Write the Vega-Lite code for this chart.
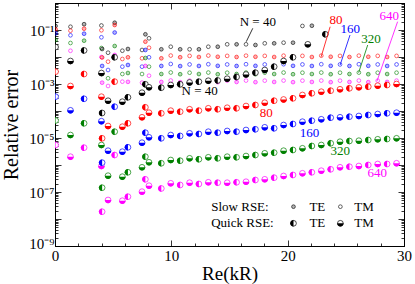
{
"$schema":"https://vega.github.io/schema/vega-lite/v6.json",
"width":349,"height":243,
"autosize":{"type":"none"},
"padding":{"left":55,"top":3,"right":11,"bottom":38},
"background":"white",
"config":{"view":{"stroke":"black","strokeWidth":1},
"axis":{"domainColor":"black","tickColor":"black","labelColor":"black","titleColor":"black","labelFont":"Liberation Serif","titleFont":"Liberation Serif","titleFontWeight":"normal","grid":false,"tickWidth":0.8}},
"datasets":{
"pts":[
{"x":0.05,"y":1.41e-1,"n":40,"m":"s","p":"TE"},{"x":0.05,"y":1.06e-1,"n":80,"m":"s","p":"TE"},{"x":0.05,"y":7.55e-2,"n":160,"m":"s","p":"TE"},{"x":0.05,"y":4.27e-2,"n":320,"m":"s","p":"TE"},{"x":0.05,"y":2.34e-2,"n":640,"m":"s","p":"TE"},
{"x":0.05,"y":2.34e-2,"n":40,"m":"q","p":"TE"},{"x":0.05,"y":2.86e-3,"n":80,"m":"q","p":"TE"},{"x":0.05,"y":3.39e-4,"n":160,"m":"q","p":"TE"},{"x":0.05,"y":4.45e-5,"n":320,"m":"q","p":"TE"},{"x":0.05,"y":5.51e-6,"n":640,"m":"q","p":"TE"},
{"x":1.33,"y":1.32e-1,"n":40,"m":"s","p":"TM"},{"x":1.33,"y":9.42e-2,"n":80,"m":"s","p":"TM"},{"x":1.33,"y":6.37e-2,"n":160,"m":"s","p":"TM"},{"x":1.33,"y":3.30e-2,"n":320,"m":"s","p":"TM"},{"x":1.33,"y":1.70e-2,"n":640,"m":"s","p":"TM"},
{"x":1.33,"y":7.11e-3,"n":40,"m":"q","p":"TM"},{"x":1.33,"y":8.43e-4,"n":80,"m":"q","p":"TM"},{"x":1.33,"y":1.06e-4,"n":160,"m":"q","p":"TM"},{"x":1.33,"y":1.29e-5,"n":320,"m":"q","p":"TM"},{"x":1.33,"y":2.03e-6,"n":640,"m":"q","p":"TM"},
{"x":2.5,"y":1.64e-1,"n":40,"m":"s","p":"TE"},{"x":2.5,"y":1.12e-1,"n":80,"m":"s","p":"TE"},{"x":2.5,"y":7.29e-2,"n":160,"m":"s","p":"TE"},{"x":2.5,"y":4.02e-2,"n":320,"m":"s","p":"TE"},{"x":2.5,"y":1.71e-2,"n":640,"m":"s","p":"TE"},
{"x":2.5,"y":1.75e-2,"n":40,"m":"q","p":"TE"},{"x":2.5,"y":2.34e-3,"n":80,"m":"q","p":"TE"},{"x":2.5,"y":2.83e-4,"n":160,"m":"q","p":"TE"},{"x":2.5,"y":3.50e-5,"n":320,"m":"q","p":"TE"},{"x":2.5,"y":4.38e-6,"n":640,"m":"q","p":"TE"},
{"x":3.99,"y":1.47e-1,"n":40,"m":"s","p":"TM"},{"x":3.99,"y":9.75e-2,"n":80,"m":"s","p":"TM"},{"x":3.99,"y":5.37e-2,"n":160,"m":"s","p":"TM"},{"x":3.99,"y":2.15e-2,"n":320,"m":"s","p":"TM"},{"x":3.99,"y":1.0e-2,"n":640,"m":"s","p":"TM"},
{"x":3.99,"y":2.55e-3,"n":40,"m":"q","p":"TM"},{"x":3.99,"y":3.39e-4,"n":80,"m":"q","p":"TM"},{"x":3.99,"y":4.19e-5,"n":160,"m":"q","p":"TM"},{"x":3.99,"y":5.51e-6,"n":320,"m":"q","p":"TM"},{"x":3.99,"y":9.18e-7,"n":640,"m":"q","p":"TM"},
{"x":4.05,"y":1.98e-2,"n":40,"m":"s","p":"TE"},{"x":4.05,"y":9.58e-3,"n":80,"m":"s","p":"TE"},{"x":4.05,"y":4.65e-3,"n":160,"m":"s","p":"TE"},{"x":4.05,"y":2.34e-3,"n":320,"m":"s","p":"TE"},{"x":4.05,"y":1.12e-3,"n":640,"m":"s","p":"TE"},
{"x":4.05,"y":8.43e-5,"n":40,"m":"q","p":"TE"},{"x":4.05,"y":9.75e-6,"n":80,"m":"q","p":"TE"},{"x":4.05,"y":1.22e-6,"n":160,"m":"q","p":"TE"},{"x":4.05,"y":1.44e-7,"n":320,"m":"q","p":"TE"},{"x":4.05,"y":1.86e-8,"n":640,"m":"q","p":"TE"},
{"x":4.56,"y":1.44e-2,"n":40,"m":"s","p":"TM"},{"x":4.56,"y":6.70e-3,"n":80,"m":"s","p":"TM"},{"x":4.56,"y":3.30e-3,"n":160,"m":"s","p":"TM"},{"x":4.56,"y":1.63e-3,"n":320,"m":"s","p":"TM"},{"x":4.56,"y":8.43e-4,"n":640,"m":"s","p":"TM"},
{"x":4.56,"y":2.40e-4,"n":40,"m":"q","p":"TM"},{"x":4.56,"y":2.78e-5,"n":80,"m":"q","p":"TM"},{"x":4.56,"y":3.39e-6,"n":160,"m":"q","p":"TM"},{"x":4.56,"y":4.02e-7,"n":320,"m":"q","p":"TM"},{"x":4.56,"y":5.06e-8,"n":640,"m":"q","p":"TM"},
{"x":5.13,"y":1.86e-1,"n":40,"m":"s","p":"TE"},{"x":5.13,"y":1.53e-1,"n":80,"m":"s","p":"TE"},{"x":5.13,"y":8.07e-2,"n":160,"m":"s","p":"TE"},{"x":5.13,"y":2.55e-2,"n":320,"m":"s","p":"TE"},{"x":5.13,"y":1.19e-2,"n":640,"m":"s","p":"TE"},
{"x":5.13,"y":9.75e-3,"n":40,"m":"q","p":"TE"},{"x":5.13,"y":1.22e-3,"n":80,"m":"q","p":"TE"},{"x":5.13,"y":1.44e-4,"n":160,"m":"q","p":"TE"},{"x":5.13,"y":1.71e-5,"n":320,"m":"q","p":"TE"},{"x":5.13,"y":2.34e-6,"n":640,"m":"q","p":"TE"},
{"x":5.79,"y":1.71e-2,"n":40,"m":"s","p":"TM"},{"x":5.79,"y":8.43e-3,"n":80,"m":"s","p":"TM"},{"x":5.79,"y":4.38e-3,"n":160,"m":"s","p":"TM"},{"x":5.79,"y":2.34e-3,"n":320,"m":"s","p":"TM"},{"x":5.79,"y":1.22e-3,"n":640,"m":"s","p":"TM"},
{"x":5.79,"y":2.21e-4,"n":40,"m":"q","p":"TM"},{"x":5.79,"y":2.62e-5,"n":80,"m":"q","p":"TM"},{"x":5.79,"y":3.11e-6,"n":160,"m":"q","p":"TM"},{"x":5.79,"y":3.69e-7,"n":320,"m":"q","p":"TM"},{"x":5.79,"y":4.76e-8,"n":640,"m":"q","p":"TM"},
{"x":6.27,"y":1.98e-2,"n":40,"m":"s","p":"TE"},{"x":6.27,"y":9.75e-3,"n":80,"m":"s","p":"TE"},{"x":6.27,"y":5.06e-3,"n":160,"m":"s","p":"TE"},{"x":6.27,"y":2.55e-3,"n":320,"m":"s","p":"TE"},{"x":6.27,"y":1.2e-3,"n":640,"m":"s","p":"TE"},
{"x":6.27,"y":3.21e-4,"n":40,"m":"q","p":"TE"},{"x":6.27,"y":3.50e-5,"n":80,"m":"q","p":"TE"},{"x":6.27,"y":4.53e-6,"n":160,"m":"q","p":"TE"},{"x":6.27,"y":5.37e-7,"n":320,"m":"q","p":"TE"},{"x":6.27,"y":6.70e-8,"n":640,"m":"q","p":"TE"},
{"x":7.48,"y":1.82e-2,"n":40,"m":"s","p":"TM"},{"x":7.48,"y":8.95e-3,"n":80,"m":"s","p":"TM"},{"x":7.48,"y":4.38e-3,"n":160,"m":"s","p":"TM"},{"x":7.48,"y":2.34e-3,"n":320,"m":"s","p":"TM"},{"x":7.48,"y":1.12e-3,"n":640,"m":"s","p":"TM"},
{"x":7.48,"y":4.76e-4,"n":40,"m":"q","p":"TM"},{"x":7.48,"y":5.85e-5,"n":80,"m":"q","p":"TM"},{"x":7.48,"y":6.70e-6,"n":160,"m":"q","p":"TM"},{"x":7.48,"y":8.22e-7,"n":320,"m":"q","p":"TM"},{"x":7.48,"y":1.03e-7,"n":640,"m":"q","p":"TM"},
{"x":7.77,"y":6.93e-2,"n":40,"m":"s","p":"TE"},{"x":7.77,"y":3.69e-2,"n":80,"m":"s","p":"TE"},{"x":7.77,"y":1.82e-2,"n":160,"m":"s","p":"TE"},{"x":7.77,"y":9.18e-3,"n":320,"m":"s","p":"TE"},{"x":7.77,"y":4.65e-3,"n":640,"m":"s","p":"TE"},
{"x":7.77,"y":9.75e-4,"n":40,"m":"q","p":"TE"},{"x":7.77,"y":1.37e-4,"n":80,"m":"q","p":"TE"},{"x":7.77,"y":1.57e-5,"n":160,"m":"q","p":"TE"},{"x":7.77,"y":2.03e-6,"n":320,"m":"q","p":"TE"},{"x":7.77,"y":2.95e-7,"n":640,"m":"q","p":"TE"},
{"x":8.08,"y":4.93e-2,"n":40,"m":"s","p":"TM"},{"x":8.08,"y":2.21e-2,"n":80,"m":"s","p":"TM"},{"x":8.08,"y":9.75e-3,"n":160,"m":"s","p":"TM"},{"x":8.08,"y":4.38e-3,"n":320,"m":"s","p":"TM"},{"x":8.08,"y":2.03e-3,"n":640,"m":"s","p":"TM"},
{"x":8.08,"y":7.55e-4,"n":40,"m":"q","p":"TM"},{"x":8.08,"y":8.65e-5,"n":80,"m":"q","p":"TM"},{"x":8.08,"y":1.06e-5,"n":160,"m":"q","p":"TM"},{"x":8.08,"y":1.26e-6,"n":320,"m":"q","p":"TM"},{"x":8.08,"y":1.71e-7,"n":640,"m":"q","p":"TM"},

{"x":9.14,"y":1.93e-2,"n":40,"m":"s","p":"TE"},{"x":9.95,"y":2.40e-2,"n":40,"m":"s","p":"TM"},{"x":10.76,"y":1.93e-2,"n":40,"m":"s","p":"TE"},{"x":11.57,"y":1.93e-2,"n":40,"m":"s","p":"TM"},{"x":12.37,"y":1.93e-2,"n":40,"m":"s","p":"TE"},{"x":13.18,"y":2.40e-2,"n":40,"m":"s","p":"TM"},{"x":13.99,"y":2.40e-2,"n":40,"m":"s","p":"TE"},{"x":14.80,"y":2.95e-2,"n":40,"m":"s","p":"TM"},{"x":15.61,"y":2.95e-2,"n":40,"m":"s","p":"TE"},{"x":16.42,"y":2.95e-2,"n":40,"m":"s","p":"TM"},{"x":17.23,"y":2.78e-2,"n":40,"m":"s","p":"TE"},{"x":18.03,"y":3.21e-2,"n":40,"m":"s","p":"TM"},{"x":18.84,"y":3.21e-2,"n":40,"m":"s","p":"TE"},{"x":19.65,"y":3.39e-2,"n":40,"m":"s","p":"TM"},{"x":20.46,"y":3.39e-2,"n":40,"m":"s","p":"TE"},{"x":21.27,"y":1.41e-1,"n":40,"m":"s","p":"TM"},{"x":22.08,"y":1.44e-1,"n":40,"m":"s","p":"TE"},

{"x":9.14,"y":8.95e-3,"n":80,"m":"s","p":"TE"},{"x":9.95,"y":1.13e-2,"n":80,"m":"s","p":"TM"},{"x":10.76,"y":9.8e-3,"n":80,"m":"s","p":"TE"},{"x":11.57,"y":1.1e-2,"n":80,"m":"s","p":"TM"},{"x":12.37,"y":1.0e-2,"n":80,"m":"s","p":"TE"},{"x":13.18,"y":1.13e-2,"n":80,"m":"s","p":"TM"},{"x":13.99,"y":1.02e-2,"n":80,"m":"s","p":"TE"},{"x":14.80,"y":1.1e-2,"n":80,"m":"s","p":"TM"},{"x":15.61,"y":1.0e-2,"n":80,"m":"s","p":"TE"},{"x":16.42,"y":1.12e-2,"n":80,"m":"s","p":"TM"},{"x":17.23,"y":1.02e-2,"n":80,"m":"s","p":"TE"},{"x":18.03,"y":1.1e-2,"n":80,"m":"s","p":"TM"},{"x":18.84,"y":1.0e-2,"n":80,"m":"s","p":"TE"},{"x":19.65,"y":1.12e-2,"n":80,"m":"s","p":"TM"},{"x":20.46,"y":1.02e-2,"n":80,"m":"s","p":"TE"},{"x":21.27,"y":1.1e-2,"n":80,"m":"s","p":"TM"},{"x":22.08,"y":1.0e-2,"n":80,"m":"s","p":"TE"},{"x":22.89,"y":1.12e-2,"n":80,"m":"s","p":"TM"},{"x":23.70,"y":1.02e-2,"n":80,"m":"s","p":"TE"},{"x":24.50,"y":1.1e-2,"n":80,"m":"s","p":"TM"},{"x":25.31,"y":1.0e-2,"n":80,"m":"s","p":"TE"},{"x":26.12,"y":1.12e-2,"n":80,"m":"s","p":"TM"},{"x":26.93,"y":1.02e-2,"n":80,"m":"s","p":"TE"},{"x":27.74,"y":1.1e-2,"n":80,"m":"s","p":"TM"},{"x":28.55,"y":1.0e-2,"n":80,"m":"s","p":"TE"},{"x":29.36,"y":1.1e-2,"n":80,"m":"s","p":"TM"},

{"x":9.14,"y":4.65e-3,"n":160,"m":"s","p":"TE"},{"x":9.95,"y":5.51e-3,"n":160,"m":"s","p":"TM"},{"x":10.76,"y":4.6e-3,"n":160,"m":"s","p":"TE"},{"x":11.57,"y":5.3e-3,"n":160,"m":"s","p":"TM"},{"x":12.37,"y":4.65e-3,"n":160,"m":"s","p":"TE"},{"x":13.18,"y":5.4e-3,"n":160,"m":"s","p":"TM"},{"x":13.99,"y":4.7e-3,"n":160,"m":"s","p":"TE"},{"x":14.80,"y":5.3e-3,"n":160,"m":"s","p":"TM"},{"x":15.61,"y":4.65e-3,"n":160,"m":"s","p":"TE"},{"x":16.42,"y":5.4e-3,"n":160,"m":"s","p":"TM"},{"x":17.23,"y":4.7e-3,"n":160,"m":"s","p":"TE"},{"x":18.03,"y":5.3e-3,"n":160,"m":"s","p":"TM"},{"x":18.84,"y":4.65e-3,"n":160,"m":"s","p":"TE"},{"x":19.65,"y":5.4e-3,"n":160,"m":"s","p":"TM"},{"x":20.46,"y":4.7e-3,"n":160,"m":"s","p":"TE"},{"x":21.27,"y":5.3e-3,"n":160,"m":"s","p":"TM"},{"x":22.08,"y":4.65e-3,"n":160,"m":"s","p":"TE"},{"x":22.89,"y":5.4e-3,"n":160,"m":"s","p":"TM"},{"x":23.70,"y":4.7e-3,"n":160,"m":"s","p":"TE"},{"x":24.50,"y":5.3e-3,"n":160,"m":"s","p":"TM"},{"x":25.31,"y":4.65e-3,"n":160,"m":"s","p":"TE"},{"x":26.12,"y":5.4e-3,"n":160,"m":"s","p":"TM"},{"x":26.93,"y":4.7e-3,"n":160,"m":"s","p":"TE"},{"x":27.74,"y":5.3e-3,"n":160,"m":"s","p":"TM"},{"x":28.55,"y":4.65e-3,"n":160,"m":"s","p":"TE"},{"x":29.36,"y":5.3e-3,"n":160,"m":"s","p":"TM"},

{"x":9.14,"y":2.34e-3,"n":320,"m":"s","p":"TE"},{"x":9.95,"y":2.67e-3,"n":320,"m":"s","p":"TM"},{"x":10.76,"y":2.3e-3,"n":320,"m":"s","p":"TE"},{"x":11.57,"y":2.62e-3,"n":320,"m":"s","p":"TM"},{"x":12.37,"y":2.34e-3,"n":320,"m":"s","p":"TE"},{"x":13.18,"y":2.65e-3,"n":320,"m":"s","p":"TM"},{"x":13.99,"y":2.3e-3,"n":320,"m":"s","p":"TE"},{"x":14.80,"y":2.62e-3,"n":320,"m":"s","p":"TM"},{"x":15.61,"y":2.34e-3,"n":320,"m":"s","p":"TE"},{"x":16.42,"y":2.65e-3,"n":320,"m":"s","p":"TM"},{"x":17.23,"y":2.3e-3,"n":320,"m":"s","p":"TE"},{"x":18.03,"y":2.62e-3,"n":320,"m":"s","p":"TM"},{"x":18.84,"y":2.34e-3,"n":320,"m":"s","p":"TE"},{"x":19.65,"y":2.65e-3,"n":320,"m":"s","p":"TM"},{"x":20.46,"y":2.3e-3,"n":320,"m":"s","p":"TE"},{"x":21.27,"y":2.62e-3,"n":320,"m":"s","p":"TM"},{"x":22.08,"y":2.34e-3,"n":320,"m":"s","p":"TE"},{"x":22.89,"y":2.65e-3,"n":320,"m":"s","p":"TM"},{"x":23.70,"y":2.3e-3,"n":320,"m":"s","p":"TE"},{"x":24.50,"y":2.62e-3,"n":320,"m":"s","p":"TM"},{"x":25.31,"y":2.34e-3,"n":320,"m":"s","p":"TE"},{"x":26.12,"y":2.65e-3,"n":320,"m":"s","p":"TM"},{"x":26.93,"y":2.3e-3,"n":320,"m":"s","p":"TE"},{"x":27.74,"y":2.62e-3,"n":320,"m":"s","p":"TM"},{"x":28.55,"y":2.34e-3,"n":320,"m":"s","p":"TE"},{"x":29.36,"y":2.62e-3,"n":320,"m":"s","p":"TM"},

{"x":9.14,"y":1.19e-3,"n":640,"m":"s","p":"TE"},{"x":9.95,"y":1.35e-3,"n":640,"m":"s","p":"TM"},{"x":10.76,"y":1.17e-3,"n":640,"m":"s","p":"TE"},{"x":11.57,"y":1.33e-3,"n":640,"m":"s","p":"TM"},{"x":12.37,"y":1.19e-3,"n":640,"m":"s","p":"TE"},{"x":13.18,"y":1.34e-3,"n":640,"m":"s","p":"TM"},{"x":13.99,"y":1.17e-3,"n":640,"m":"s","p":"TE"},{"x":14.80,"y":1.33e-3,"n":640,"m":"s","p":"TM"},{"x":15.61,"y":1.19e-3,"n":640,"m":"s","p":"TE"},{"x":16.42,"y":1.34e-3,"n":640,"m":"s","p":"TM"},{"x":17.23,"y":1.17e-3,"n":640,"m":"s","p":"TE"},{"x":18.03,"y":1.33e-3,"n":640,"m":"s","p":"TM"},{"x":18.84,"y":1.19e-3,"n":640,"m":"s","p":"TE"},{"x":19.65,"y":1.34e-3,"n":640,"m":"s","p":"TM"},{"x":20.46,"y":1.17e-3,"n":640,"m":"s","p":"TE"},{"x":21.27,"y":1.33e-3,"n":640,"m":"s","p":"TM"},{"x":22.08,"y":1.19e-3,"n":640,"m":"s","p":"TE"},{"x":22.89,"y":1.34e-3,"n":640,"m":"s","p":"TM"},{"x":23.70,"y":1.17e-3,"n":640,"m":"s","p":"TE"},{"x":24.50,"y":1.33e-3,"n":640,"m":"s","p":"TM"},{"x":25.31,"y":1.19e-3,"n":640,"m":"s","p":"TE"},{"x":26.12,"y":1.34e-3,"n":640,"m":"s","p":"TM"},{"x":26.93,"y":1.17e-3,"n":640,"m":"s","p":"TE"},{"x":27.74,"y":1.33e-3,"n":640,"m":"s","p":"TM"},{"x":28.55,"y":1.19e-3,"n":640,"m":"s","p":"TE"},{"x":29.36,"y":1.33e-3,"n":640,"m":"s","p":"TM"},

{"x":9.14,"y":7.29e-4,"n":40,"m":"q","p":"TE"},{"x":9.95,"y":9.18e-4,"n":40,"m":"q","p":"TM"},{"x":10.76,"y":9.75e-4,"n":40,"m":"q","p":"TE"},{"x":11.57,"y":1.14e-3,"n":40,"m":"q","p":"TM"},{"x":12.37,"y":1.22e-3,"n":40,"m":"q","p":"TE"},{"x":13.18,"y":1.32e-3,"n":40,"m":"q","p":"TM"},{"x":13.99,"y":1.35e-3,"n":40,"m":"q","p":"TE"},{"x":14.80,"y":1.57e-3,"n":40,"m":"q","p":"TM"},{"x":15.61,"y":1.82e-3,"n":40,"m":"q","p":"TE"},{"x":16.42,"y":2.25e-3,"n":40,"m":"q","p":"TM"},{"x":17.23,"y":2.62e-3,"n":40,"m":"q","p":"TE"},{"x":18.03,"y":3.30e-3,"n":40,"m":"q","p":"TM"},{"x":18.84,"y":4.38e-3,"n":40,"m":"q","p":"TE"},{"x":19.65,"y":7.11e-3,"n":40,"m":"q","p":"TM"},{"x":20.46,"y":9.75e-3,"n":40,"m":"q","p":"TE"},{"x":21.73,"y":2.95e-2,"n":40,"m":"q","p":"TM"},{"x":23.24,"y":6.93e-2,"n":40,"m":"q","p":"TE"},

{"x":9.14,"y":8.22e-5,"n":80,"m":"q","p":"TE"},{"x":9.95,"y":1.03e-4,"n":80,"m":"q","p":"TM"},{"x":10.76,"y":9.42e-5,"n":80,"m":"q","p":"TE"},{"x":11.57,"y":1.16e-4,"n":80,"m":"q","p":"TM"},{"x":12.37,"y":1.03e-4,"n":80,"m":"q","p":"TE"},{"x":13.18,"y":1.26e-4,"n":80,"m":"q","p":"TM"},{"x":13.99,"y":1.16e-4,"n":80,"m":"q","p":"TE"},{"x":14.80,"y":1.32e-4,"n":80,"m":"q","p":"TM"},{"x":15.61,"y":1.26e-4,"n":80,"m":"q","p":"TE"},{"x":16.42,"y":1.53e-4,"n":80,"m":"q","p":"TM"},{"x":17.23,"y":1.67e-4,"n":80,"m":"q","p":"TE"},{"x":18.03,"y":2.03e-4,"n":80,"m":"q","p":"TM"},{"x":18.84,"y":2.40e-4,"n":80,"m":"q","p":"TE"},{"x":19.65,"y":2.67e-4,"n":80,"m":"q","p":"TM"},{"x":20.46,"y":2.95e-4,"n":80,"m":"q","p":"TE"},{"x":21.27,"y":3.92e-4,"n":80,"m":"q","p":"TM"},{"x":22.08,"y":4.53e-4,"n":80,"m":"q","p":"TE"},{"x":22.89,"y":5.19e-4,"n":80,"m":"q","p":"TM"},{"x":23.70,"y":5.65e-4,"n":80,"m":"q","p":"TE"},{"x":24.50,"y":6.37e-4,"n":80,"m":"q","p":"TM"},{"x":25.31,"y":6.93e-4,"n":80,"m":"q","p":"TE"},{"x":26.12,"y":7.55e-4,"n":80,"m":"q","p":"TM"},{"x":26.93,"y":7.94e-4,"n":80,"m":"q","p":"TE"},{"x":27.74,"y":8.65e-4,"n":80,"m":"q","p":"TM"},{"x":28.55,"y":9.18e-4,"n":80,"m":"q","p":"TE"},{"x":29.36,"y":1.0e-3,"n":80,"m":"q","p":"TM"},

{"x":9.14,"y":9.75e-6,"n":160,"m":"q","p":"TE"},{"x":9.95,"y":1.29e-5,"n":160,"m":"q","p":"TM"},{"x":10.76,"y":1.19e-5,"n":160,"m":"q","p":"TE"},{"x":11.57,"y":1.49e-5,"n":160,"m":"q","p":"TM"},{"x":12.37,"y":1.41e-5,"n":160,"m":"q","p":"TE"},{"x":13.18,"y":1.71e-5,"n":160,"m":"q","p":"TM"},{"x":13.99,"y":1.57e-5,"n":160,"m":"q","p":"TE"},{"x":14.80,"y":1.82e-5,"n":160,"m":"q","p":"TM"},{"x":15.61,"y":1.71e-5,"n":160,"m":"q","p":"TE"},{"x":16.42,"y":1.98e-5,"n":160,"m":"q","p":"TM"},{"x":17.23,"y":2.10e-5,"n":160,"m":"q","p":"TE"},{"x":18.03,"y":2.49e-5,"n":160,"m":"q","p":"TM"},{"x":18.84,"y":2.29e-5,"n":160,"m":"q","p":"TE"},{"x":19.65,"y":3.03e-5,"n":160,"m":"q","p":"TM"},{"x":20.46,"y":3.30e-5,"n":160,"m":"q","p":"TE"},{"x":21.27,"y":4.02e-5,"n":160,"m":"q","p":"TM"},{"x":22.08,"y":4.38e-5,"n":160,"m":"q","p":"TE"},{"x":22.89,"y":4.93e-5,"n":160,"m":"q","p":"TM"},{"x":23.70,"y":5.65e-5,"n":160,"m":"q","p":"TE"},{"x":24.50,"y":5.85e-5,"n":160,"m":"q","p":"TM"},{"x":25.31,"y":6.15e-5,"n":160,"m":"q","p":"TE"},{"x":26.12,"y":6.53e-5,"n":160,"m":"q","p":"TM"},{"x":26.93,"y":7.11e-5,"n":160,"m":"q","p":"TE"},{"x":27.74,"y":7.74e-5,"n":160,"m":"q","p":"TM"},{"x":28.55,"y":8.22e-5,"n":160,"m":"q","p":"TE"},{"x":29.36,"y":8.65e-5,"n":160,"m":"q","p":"TM"},

{"x":9.14,"y":1.16e-6,"n":320,"m":"q","p":"TE"},{"x":9.95,"y":1.53e-6,"n":320,"m":"q","p":"TM"},{"x":10.76,"y":1.44e-6,"n":320,"m":"q","p":"TE"},{"x":11.57,"y":1.77e-6,"n":320,"m":"q","p":"TM"},{"x":12.37,"y":1.63e-6,"n":320,"m":"q","p":"TE"},{"x":13.18,"y":1.93e-6,"n":320,"m":"q","p":"TM"},{"x":13.99,"y":1.77e-6,"n":320,"m":"q","p":"TE"},{"x":14.80,"y":2.03e-6,"n":320,"m":"q","p":"TM"},{"x":15.61,"y":1.93e-6,"n":320,"m":"q","p":"TE"},{"x":16.42,"y":2.15e-6,"n":320,"m":"q","p":"TM"},{"x":17.23,"y":2.34e-6,"n":320,"m":"q","p":"TE"},{"x":18.03,"y":2.71e-6,"n":320,"m":"q","p":"TM"},{"x":18.84,"y":2.86e-6,"n":320,"m":"q","p":"TE"},{"x":19.65,"y":3.39e-6,"n":320,"m":"q","p":"TM"},{"x":20.46,"y":3.60e-6,"n":320,"m":"q","p":"TE"},{"x":21.27,"y":4.16e-6,"n":320,"m":"q","p":"TM"},{"x":22.08,"y":5.06e-6,"n":320,"m":"q","p":"TE"},{"x":22.89,"y":5.51e-6,"n":320,"m":"q","p":"TM"},{"x":23.70,"y":6.37e-6,"n":320,"m":"q","p":"TE"},{"x":24.50,"y":7.29e-6,"n":320,"m":"q","p":"TM"},{"x":25.31,"y":7.74e-6,"n":320,"m":"q","p":"TE"},{"x":26.12,"y":7.94e-6,"n":320,"m":"q","p":"TM"},{"x":26.93,"y":8.43e-6,"n":320,"m":"q","p":"TE"},{"x":27.74,"y":8.95e-6,"n":320,"m":"q","p":"TM"},{"x":28.55,"y":9.18e-6,"n":320,"m":"q","p":"TE"},{"x":29.36,"y":9.75e-6,"n":320,"m":"q","p":"TM"},

{"x":9.14,"y":1.35e-7,"n":640,"m":"q","p":"TE"},{"x":9.95,"y":2.10e-7,"n":640,"m":"q","p":"TM"},{"x":10.76,"y":1.82e-7,"n":640,"m":"q","p":"TE"},{"x":11.57,"y":2.21e-7,"n":640,"m":"q","p":"TM"},{"x":12.37,"y":1.98e-7,"n":640,"m":"q","p":"TE"},{"x":13.18,"y":2.29e-7,"n":640,"m":"q","p":"TM"},{"x":13.99,"y":2.21e-7,"n":640,"m":"q","p":"TE"},{"x":14.80,"y":2.21e-7,"n":640,"m":"q","p":"TM"},{"x":15.61,"y":2.29e-7,"n":640,"m":"q","p":"TE"},{"x":16.42,"y":2.40e-7,"n":640,"m":"q","p":"TM"},{"x":17.23,"y":2.78e-7,"n":640,"m":"q","p":"TE"},{"x":18.03,"y":2.95e-7,"n":640,"m":"q","p":"TM"},{"x":18.84,"y":3.39e-7,"n":640,"m":"q","p":"TE"},{"x":19.65,"y":3.92e-7,"n":640,"m":"q","p":"TM"},{"x":20.46,"y":4.27e-7,"n":640,"m":"q","p":"TE"},{"x":21.27,"y":4.93e-7,"n":640,"m":"q","p":"TM"},{"x":22.08,"y":5.37e-7,"n":640,"m":"q","p":"TE"},{"x":22.89,"y":6.15e-7,"n":640,"m":"q","p":"TM"},{"x":23.70,"y":6.93e-7,"n":640,"m":"q","p":"TE"},{"x":24.50,"y":8.22e-7,"n":640,"m":"q","p":"TM"},{"x":25.31,"y":8.65e-7,"n":640,"m":"q","p":"TE"},{"x":26.12,"y":9.18e-7,"n":640,"m":"q","p":"TM"},{"x":26.93,"y":1.0e-6,"n":640,"m":"q","p":"TE"},{"x":27.74,"y":1.09e-6,"n":640,"m":"q","p":"TM"},{"x":28.55,"y":1.09e-6,"n":640,"m":"q","p":"TE"},{"x":29.36,"y":1.16e-6,"n":640,"m":"q","p":"TM"},

{"x":20.5,"y":2.86e-8,"n":40,"m":"s","p":"TE"},{"x":24.53,"y":2.86e-8,"n":40,"m":"s","p":"TM"},{"x":20.5,"y":6.93e-9,"n":40,"m":"q","p":"TE"},{"x":24.53,"y":6.93e-9,"n":40,"m":"q","p":"TM"}
],
"ann":[
{"x":17.43,"y":0.203,"t":"N = 40","n":40},
{"x":12.43,"y":5.65e-4,"t":"N = 40","n":40},
{"x":24.16,"y":0.234,"t":"80","n":80},
{"x":25.39,"y":0.106,"t":"160","n":160},
{"x":27.17,"y":4.53e-2,"t":"320","n":320},
{"x":28.74,"y":0.331,"t":"640","n":640},
{"x":18.15,"y":8.22e-5,"t":"80","n":80},
{"x":21.87,"y":1.49e-5,"t":"160","n":160},
{"x":24.53,"y":3.30e-6,"t":"320","n":320},
{"x":27.71,"y":4.93e-7,"t":"640","n":640}
],
"leg":[
{"x":13.43,"y":2.86e-8,"t":"Slow RSE:"},
{"x":13.43,"y":6.93e-9,"t":"Quick RSE:"},
{"x":21.87,"y":2.86e-8,"t":"TE"},
{"x":25.73,"y":2.86e-8,"t":"TM"},
{"x":21.87,"y":6.93e-9,"t":"TE"},
{"x":25.73,"y":6.93e-9,"t":"TM"}
],
"lines":[
{"x":16.44,"y":3.69e-2,"x2":17.0,"y2":0.1156,"n":40},
{"x":22.88,"y":1.02e-2,"x2":23.65,"y2":0.132,"n":80},
{"x":24.51,"y":5.06e-3,"x2":25.36,"y2":6.53e-2,"n":160},
{"x":26.1,"y":2.63e-3,"x2":26.88,"y2":2.78e-2,"n":320},
{"x":27.68,"y":1.29e-3,"x2":29.45,"y2":0.203,"n":640}
]
},
"layer":[
{
"encoding":{
"x":{"field":"x","type":"quantitative","scale":{"domain":[0,30],"nice":false,"zero":false},
"axis":{"orient":"bottom","values":[0,2,4,6,8,10,12,14,16,18,20,22,24,26,28,30],"labelExpr":"datum.value % 10 == 0 ? datum.label : ''","tickSize":{"condition":{"test":"datum.value % 10 == 0","value":-6},"value":-3},"labelFontSize":15,"labelPadding":8,"labelFlush":false,"title":"Re(kR)","titleFontSize":19,"titlePadding":1}},
"y":{"field":"y","type":"quantitative","scale":{"type":"log","domain":[1e-9,1],"nice":false},
"axis":{"orient":"left","values":[1e-9,2e-9,3e-9,4e-9,5e-9,6e-9,7e-9,8e-9,9e-9,1e-8,2e-8,3e-8,4e-8,5e-8,6e-8,7e-8,8e-8,9e-8,1e-7,2e-7,3e-7,4e-7,5e-7,6e-7,7e-7,8e-7,9e-7,1e-6,2e-6,3e-6,4e-6,5e-6,6e-6,7e-6,8e-6,9e-6,1e-5,2e-5,3e-5,4e-5,5e-5,6e-5,7e-5,8e-5,9e-5,1e-4,2e-4,3e-4,4e-4,5e-4,6e-4,7e-4,8e-4,9e-4,1e-3,2e-3,3e-3,4e-3,5e-3,6e-3,7e-3,8e-3,9e-3,1e-2,2e-2,3e-2,4e-2,5e-2,6e-2,7e-2,8e-2,9e-2,0.1,0.2,0.3,0.4,0.5,0.6,0.7,0.8,0.9,1],
"labelExpr":"datum.value == 0.1 ? '10⁻¹' : datum.value == 0.001 ? '10⁻³' : datum.value == 1e-5 ? '10⁻⁵' : datum.value == 1e-7 ? '10⁻⁷' : datum.value == 1e-9 ? '10⁻⁹' : ''",
"labelOffset":{"condition":{"test":"datum.value < 2e-9","value":-3},"value":0},
"tickSize":{"condition":{"test":"abs(log(datum.value)/LN10 - round(log(datum.value)/LN10)) < 0.01","value":-6},"value":-3},
"labelFontSize":15,"labelPadding":7,"labelFlush":false,"title":"Relative error","titleFontSize":20,"titlePadding":7}}
},
"layer":[
{"data":{"name":"pts"},"transform":[{"filter":"datum.m == 's'"}],
"mark":{"type":"point","shape":"circle","size":14,"strokeWidth":0.6,"opacity":1,"filled":true,"clip":true},
"encoding":{
"stroke":{"field":"n","type":"nominal","scale":{"domain":[40,80,160,320,640],"range":["#000000","#ff0000","#0000ff","#008000","#ff00ff"]},"legend":null},
"fill":{"field":"n","type":"nominal","scale":{"domain":[40,80,160,320,640],"range":["#000000","#ff0000","#0000ff","#008000","#ff00ff"]},"legend":null},
"fillOpacity":{"field":"p","type":"nominal","scale":{"domain":["TE","TM"],"range":[0.3,0]},"legend":null}}},
{"data":{"name":"pts"},"transform":[{"filter":"datum.m == 'q'"}],
"mark":{"type":"point","shape":"circle","size":33,"strokeWidth":0.7,"opacity":1,"fill":"white","fillOpacity":1,"clip":true},
"encoding":{
"stroke":{"field":"n","type":"nominal","scale":{"domain":[40,80,160,320,640],"range":["#000000","#ff0000","#0000ff","#008000","#ff00ff"]},"legend":null}}},
{"data":{"name":"pts"},"transform":[{"filter":"datum.m == 'q'"}],
"mark":{"type":"point","size":42,"strokeWidth":0,"opacity":1,"filled":true,"clip":true},
"encoding":{
"shape":{"field":"p","type":"nominal","scale":{"domain":["TE","TM"],"range":["M0,-1A1,1,0,0,0,0,1Z","M-1,0A1,1,0,0,0,1,0Z"]},"legend":null},
"fill":{"field":"n","type":"nominal","scale":{"domain":[40,80,160,320,640],"range":["#000000","#ff0000","#0000ff","#008000","#ff00ff"]},"legend":null}}},
{"data":{"name":"ann"},
"mark":{"type":"text","font":"Liberation Serif","fontSize":13,"align":"center","baseline":"middle"},
"encoding":{"text":{"field":"t"},
"color":{"field":"n","type":"nominal","scale":{"domain":[40,80,160,320,640],"range":["#000000","#ff0000","#0000ff","#008000","#ff00ff"]},"legend":null}}},
{"data":{"name":"leg"},
"mark":{"type":"text","font":"Liberation Serif","fontSize":13,"align":"left","baseline":"middle","color":"black"},
"encoding":{"text":{"field":"t"}}}
]
},
{"data":{"name":"lines"},
"mark":{"type":"rule","strokeWidth":0.8},
"encoding":{
"x":{"field":"x","type":"quantitative","axis":{"orient":"top","values":[0,2,4,6,8,10,12,14,16,18,20,22,24,26,28,30],"labels":false,"title":null,"tickSize":{"condition":{"test":"datum.value % 10 == 0","value":-6},"value":-3}}},
"y":{"field":"y","type":"quantitative","axis":{"orient":"right","values":[1e-9,2e-9,3e-9,4e-9,5e-9,6e-9,7e-9,8e-9,9e-9,1e-8,2e-8,3e-8,4e-8,5e-8,6e-8,7e-8,8e-8,9e-8,1e-7,2e-7,3e-7,4e-7,5e-7,6e-7,7e-7,8e-7,9e-7,1e-6,2e-6,3e-6,4e-6,5e-6,6e-6,7e-6,8e-6,9e-6,1e-5,2e-5,3e-5,4e-5,5e-5,6e-5,7e-5,8e-5,9e-5,1e-4,2e-4,3e-4,4e-4,5e-4,6e-4,7e-4,8e-4,9e-4,1e-3,2e-3,3e-3,4e-3,5e-3,6e-3,7e-3,8e-3,9e-3,1e-2,2e-2,3e-2,4e-2,5e-2,6e-2,7e-2,8e-2,9e-2,0.1,0.2,0.3,0.4,0.5,0.6,0.7,0.8,0.9,1],"labels":false,"title":null,"tickSize":{"condition":{"test":"abs(log(datum.value)/LN10 - round(log(datum.value)/LN10)) < 0.01","value":-6},"value":-3}}},
"x2":{"field":"x2"},"y2":{"field":"y2"},
"stroke":{"field":"n","type":"nominal","scale":{"domain":[40,80,160,320,640],"range":["#000000","#ff0000","#0000ff","#008000","#ff00ff"]},"legend":null}}}
],
"resolve":{"axis":{"x":"independent","y":"independent"}}
}
